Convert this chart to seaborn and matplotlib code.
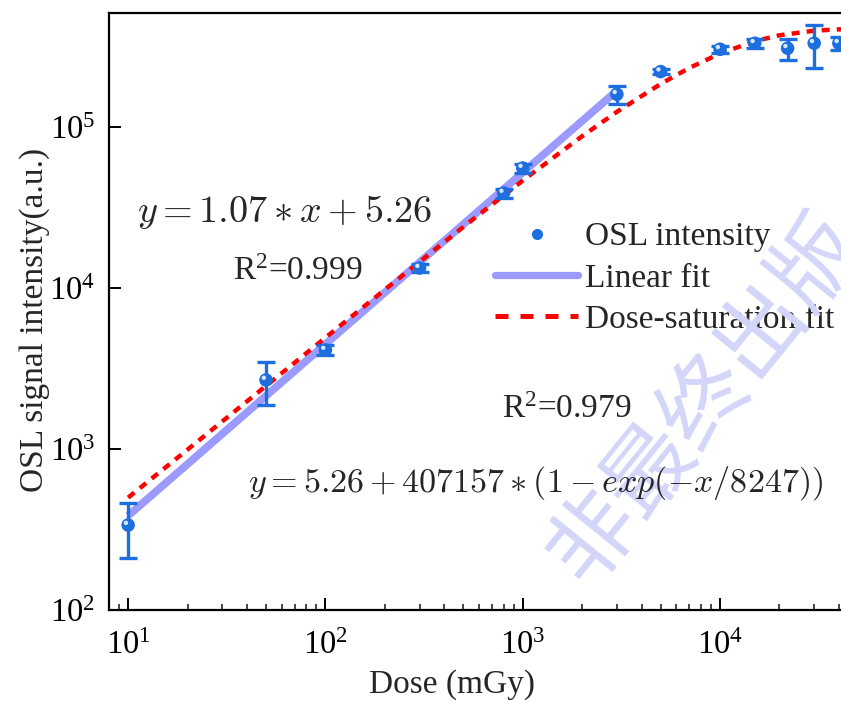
import numpy as np
import pandas as pd
import matplotlib
matplotlib.use("Agg")
import matplotlib.pyplot as plt
import matplotlib.transforms as mtransforms
from matplotlib.lines import Line2D
import seaborn as sns

# ---------------- data ----------------
dose = [10, 50, 100, 300, 800, 1000, 3000, 5000, 10000, 15000, 22000, 30000, 40000]
osl = [337, 2683, 4120, 13300, 38900, 55600, 159700, 220800, 304000, 331400, 308500, 331400, 331400]
osl_err = [128, 810, 300, 700, 2500, 3500, 21000, 8000, 15000, 20000, 46000, 100000, 30000]

lin_x = [10, 3000]
lin_y = [385, 168000]

sat_x = [10, 20, 50, 100, 200, 500, 1000, 2000, 3000, 5000, 7000, 10000, 15000, 20000, 30000, 40000, 50000, 60000]
sat_y = [499, 991, 2466, 4912, 9761, 23955, 46494, 87698, 124160, 185124, 232935, 286064,
         341108, 371136, 396445, 403971, 406210, 406900]

labels = ["OSL intensity", "Linear fit", "Dose-saturation fit"]
eq_lin = r"$y = 1.07 * x + 5.26$"
eq_sat = r"$y = 5.26 + 407157 * (1 - exp(-x/8247))$"
r2_lin = r"R$^{2}$=0.999"
r2_sat = r"R$^{2}$=0.979"
xlabel = "Dose (mGy)"
ylabel = "OSL signal intensity(a.u.)"
watermark = "非最终出版"

# ---------------- style ----------------
sns.set_theme(style="ticks")
plt.rcParams["font.family"] = ["Liberation Serif", "DejaVu Serif"]
plt.rcParams["mathtext.fontset"] = "custom"
plt.rcParams["mathtext.rm"] = "Liberation Serif"
plt.rcParams["mathtext.it"] = "Liberation Serif:italic"
plt.rcParams["mathtext.bf"] = "Liberation Serif:bold"

W, H = 841, 702
fig = plt.figure(figsize=(W / 100, H / 100), dpi=100)
ax_left, ax_right, ax_top, ax_bottom = 109, 870, 13, 610
ax = fig.add_axes([ax_left / W, 1 - ax_bottom / H, (ax_right - ax_left) / W, (ax_bottom - ax_top) / H])

blue = "#1d6fe0"
fitblue = "#9a9aff"
FS = 24

df_pts = pd.DataFrame({"dose": dose, "osl": osl})
df_lin = pd.DataFrame({"x": lin_x, "y": lin_y})
df_sat = pd.DataFrame({"x": sat_x, "y": sat_y})

ax.set_xscale("log")
ax.set_yscale("log")

# watermark
fig.text(705 / W, 1 - 400 / H, watermark, rotation=51, fontsize=64, color="#d3d5f9",
         ha="center", va="center", family=["Noto Sans CJK SC", "DejaVu Sans"], zorder=0)

sns.lineplot(data=df_lin, x="x", y="y", ax=ax, color=fitblue, lw=5.6, zorder=2,
             solid_capstyle="butt")
sns.lineplot(data=df_sat, x="x", y="y", ax=ax, color="#ff0000", lw=3.2, zorder=3,
             dashes=False, linestyle=(0, (1.8, 1.6)))
ax.errorbar(dose, osl, yerr=osl_err, fmt="none", ecolor=blue, elinewidth=2.4,
            capsize=6.5, capthick=2.4, zorder=4)
sns.scatterplot(data=df_pts, x="dose", y="osl", ax=ax, color=blue, s=95,
                edgecolor="none", zorder=5)
hl = mtransforms.offset_copy(ax.transData, fig=fig, x=-2.2, y=2.2, units="dots")
ax.scatter(dose, osl, s=10, color="#d6e6ff", edgecolor="none", zorder=6, transform=hl)

ax.set_xlim(8.0, 57540)
ax.set_ylim(100, 10 ** 5.708)

# spines / ticks
for s in ["left", "bottom", "top"]:
    ax.spines[s].set_linewidth(1.6)
    ax.spines[s].set_color("black")
ax.spines["right"].set_visible(False)
ax.tick_params(axis="both", which="major", direction="in", length=8.5, width=1.4,
               labelsize=23.5, top=False, right=False, color="black", labelcolor="black")
ax.tick_params(axis="x", which="major", pad=15)
ax.tick_params(axis="y", which="major", pad=10)
ax.tick_params(axis="x", which="minor", direction="in", length=4.5, width=1.2, top=False)
ax.tick_params(axis="y", which="minor", left=False, right=False)
ax.yaxis.set_minor_locator(matplotlib.ticker.NullLocator())

ax.set_xlabel(xlabel, fontsize=FS)
ax.set_ylabel(ylabel, fontsize=FS)
ax.xaxis.set_label_coords((452 - ax_left) / (ax_right - ax_left), (ax_bottom - 669) / (ax_bottom - ax_top))
ax.yaxis.set_label_coords((50 - ax_left) / (ax_right - ax_left), (ax_bottom - 320) / (ax_bottom - ax_top))

# annotations
fig.text(285 / W, 1 - 212 / H, eq_lin, fontsize=27.5, ha="center", va="center", math_fontfamily="cm")
fig.text(298 / W, 1 - 272 / H, r2_lin, fontsize=FS, ha="center", va="center")
fig.text(567 / W, 1 - 410 / H, r2_sat, fontsize=FS, ha="center", va="center")
fig.text(536 / W, 1 - 483 / H, eq_sat, fontsize=24.5, ha="center", va="center", math_fontfamily="cm")

# legend
handles = [
    Line2D([], [], marker="o", ls="none", color=blue, ms=8, mec="none"),
    Line2D([], [], color=fitblue, lw=5.2, solid_capstyle="round"),
    Line2D([], [], color="#ff0000", lw=3.6, linestyle=(0, (2.6, 2.4))),
]
ax.legend(handles, labels, loc="upper left", bbox_to_anchor=(495 / W, 1 - 222 / H),
          bbox_transform=fig.transFigure, frameon=False, fontsize=FS, handlelength=2.5,
          handletextpad=0.2, labelspacing=0.32, borderpad=0, borderaxespad=0)

fig.savefig("out.png", dpi=100)
